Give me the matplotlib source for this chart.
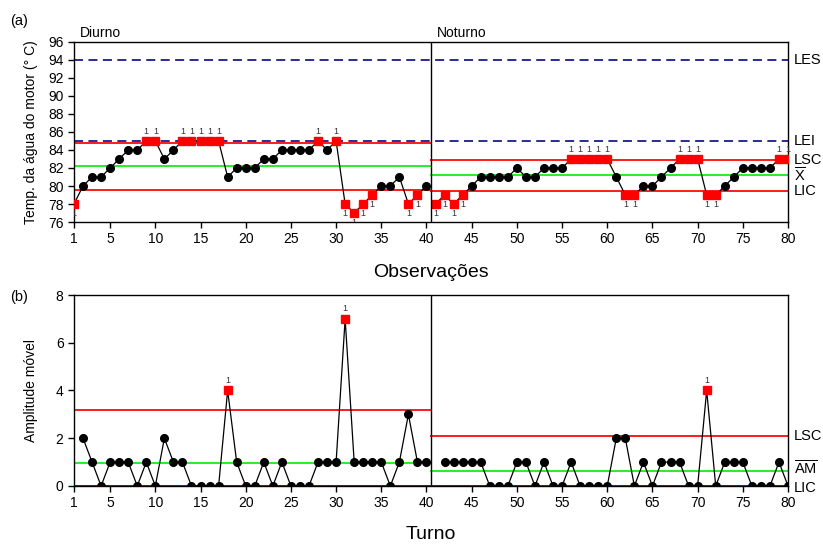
import numpy as np
import matplotlib.pyplot as plt

plt.rcParams['font.family'] = ['Liberation Sans', 'DejaVu Sans']
plt.rcParams['mathtext.fontset'] = 'custom'
plt.rcParams['mathtext.rm'] = 'Liberation Sans'
plt.rcParams['mathtext.it'] = 'Liberation Sans'

# Temperatura da água do motor (°C), turno diurno e noturno
temp_diurno = [78, 80, 81, 81, 82, 83, 84, 84, 85, 85,
               83, 84, 85, 85, 85, 85, 85, 81, 82, 82,
               82, 83, 83, 84, 84, 84, 84, 85, 84, 85,
               78, 77, 78, 79, 80, 80, 81, 78, 79, 80]
temp_noturno = [78, 79, 78, 79, 80, 81, 81, 81, 81, 82,
                81, 81, 82, 82, 82, 83, 83, 83, 83, 83,
                81, 79, 79, 80, 80, 81, 82, 83, 83, 83,
                79, 79, 80, 81, 82, 82, 82, 82, 83, 83]
turnos = ['Diurno', 'Noturno']

# Limites de especificação
LES = 94
LEI = 85

d2, D4 = 1.128, 3.267

# Cores
VERM = '#ff1a1a'
VERDE = '#00ee00'
AZUL = '#1a1a8c'

fig = plt.figure(figsize=(8.23, 5.46), dpi=100)
ax1 = fig.add_axes([0.0899, 0.5934, 0.8676, 0.3297])
ax2 = fig.add_axes([0.0899, 0.1099, 0.8676, 0.3498])

estagios = []
inicio = 1
for dados in [temp_diurno, temp_noturno]:
    x = np.arange(inicio, inicio + len(dados))
    y = np.array(dados, dtype=float)
    mr = np.abs(np.diff(y))
    media = y.mean()
    mr_bar = mr.mean()
    lsc = media + 3 * mr_bar / d2
    lic = media - 3 * mr_bar / d2
    estagios.append(dict(x=x, y=y, mr=mr, media=media, mr_bar=mr_bar,
                         lsc=lsc, lic=lic, lsc_mr=D4 * mr_bar))
    inicio += len(dados)

divisa = 40.5
limites_x = [(1, divisa), (divisa, 80)]
xticks = [1, 5, 10, 15, 20, 25, 30, 35, 40, 45, 50, 55, 60, 65, 70, 75, 80]

# (a) Gráfico de valores individuais
for est, (xa, xb) in zip(estagios, limites_x):
    ax1.plot([xa, xb], [est['lsc']] * 2, color=VERM, lw=1.4, zorder=2)
    ax1.plot([xa, xb], [est['lic']] * 2, color=VERM, lw=1.4, zorder=2)
    ax1.plot([xa, xb], [est['media']] * 2, color=VERDE, lw=1.2, zorder=2)
    x, y = est['x'], est['y']
    ax1.plot(x, y, color='black', lw=0.9, zorder=3)
    fora = (y > est['lsc']) | (y < est['lic'])
    ax1.plot(x[~fora], y[~fora], 'o', color='black', ms=5.5, zorder=4)
    ax1.plot(x[fora], y[fora], 's', color='#ff0000', ms=5.5, zorder=5)
    for xi, yi in zip(x[fora], y[fora]):
        if yi > est['lsc']:
            ax1.text(xi, yi + 0.6, '1', ha='center', va='bottom', fontsize=6.5, color='#333333')
        else:
            ax1.text(xi, yi - 0.6, '1', ha='center', va='top', fontsize=6.5, color='#333333',
                     clip_on=True)

ax1.axhline(LES, color=AZUL, lw=1.3, ls=(0, (5, 3)), zorder=2)
ax1.axhline(LEI, color=AZUL, lw=1.3, ls=(0, (5, 3)), zorder=2)
ax1.axvline(divisa, color='black', lw=1, zorder=6)

ax1.set_xlim(1, 80)
ax1.set_ylim(76, 96)
ax1.set_yticks(np.arange(76, 97, 2))
ax1.set_xticks(xticks)
ax1.tick_params(labelsize=10, length=4, width=1)
ax1.set_ylabel('Temp. da água do motor (° C)', fontsize=10)
ax1.yaxis.set_label_coords(-0.05, 0.5)
ax1.set_xlabel('Observações', fontsize=14, labelpad=13)

ult = estagios[-1]
tx = 1.008
for val, txt in [(LES, 'LES'), (LEI, 'LEI'), (ult['lsc'], 'LSC'),
                 (ult['media'], r'$\mathrm{\overline{X}}$'), (ult['lic'], 'LIC')]:
    ax1.text(tx, val, txt, transform=ax1.get_yaxis_transform(), ha='left',
             va='center', fontsize=10.5)

ax1.text(1.6, 96.2, 'Diurno', fontsize=10, va='bottom')
ax1.text(41.1, 96.2, 'Noturno', fontsize=10, va='bottom')
fig.text(0.012, 0.955, '(a)', fontsize=10.5)

# (b) Gráfico de amplitude móvel
for est, (xa, xb) in zip(estagios, limites_x):
    ax2.plot([xa, xb], [est['lsc_mr']] * 2, color=VERM, lw=1.4, zorder=2)
    ax2.plot([xa, xb], [est['mr_bar']] * 2, color=VERDE, lw=1.2, zorder=2)
    x = est['x'][1:]
    mr = est['mr']
    ax2.plot(x, mr, color='black', lw=0.9, zorder=3)
    fora = mr > est['lsc_mr']
    ax2.plot(x[~fora], mr[~fora], 'o', color='black', ms=5.5, zorder=4)
    ax2.plot(x[fora], mr[fora], 's', color='#ff0000', ms=5.5, zorder=5)
    for xi, yi in zip(x[fora], mr[fora]):
        ax2.text(xi, yi + 0.25, '1', ha='center', va='bottom', fontsize=6.5, color='#333333')

ax2.axhline(0, color='#b00000', lw=1.4, zorder=2)
ax2.axvline(divisa, color='black', lw=1, zorder=6)

ax2.set_xlim(1, 80)
ax2.set_ylim(0, 8)
ax2.set_yticks([0, 2, 4, 6, 8])
ax2.set_xticks(xticks)
ax2.tick_params(labelsize=10, length=4, width=1)
ax2.set_ylabel('Amplitude móvel', fontsize=10)
ax2.yaxis.set_label_coords(-0.05, 0.5)
ax2.set_xlabel('Turno', fontsize=14, labelpad=11)

for val, txt in [(ult['lsc_mr'], 'LSC'), (ult['mr_bar'] + 0.1, r'$\mathrm{\overline{AM}}$'),
                 (-0.1, 'LIC')]:
    ax2.text(tx, val, txt, transform=ax2.get_yaxis_transform(), ha='left',
             va='center', fontsize=10.5)

fig.text(0.012, 0.448, '(b)', fontsize=10.5)

for ax in (ax1, ax2):
    for s in ax.spines.values():
        s.set_linewidth(1)

fig.savefig('out.png', dpi=100)
